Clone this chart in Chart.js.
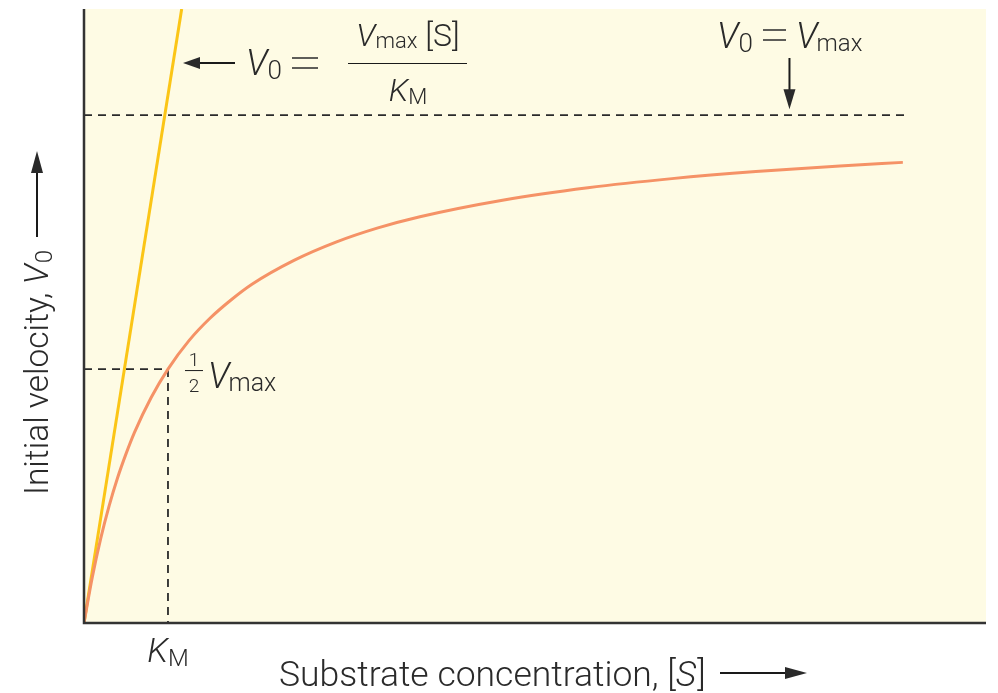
<!DOCTYPE html>
<html lang="en">
<head>
<meta charset="UTF-8" />
<title>Michaelis-Menten</title>
<script src="https://cdn.jsdelivr.net/npm/chart.js@4.4.1/dist/chart.umd.min.js"></script>
<style>
  html, body { margin: 0; padding: 0; background: #fff; }
  #wrap { width: 998px; height: 693px; }
</style>
</head>
<body>
<div id="wrap"><canvas id="mm" width="998" height="693"></canvas></div>
<script>
// values (KM = 1, Vmax = 1)
const KM = 1;
const VMAX = 1;
const substrate = [0, 0.1, 0.2, 0.3, 0.4, 0.5, 0.6, 0.8, 1.0, 1.25, 1.5, 1.75, 2, 2.5, 3, 3.5, 4, 5, 6, 7, 8, 9, 9.75];
const velocity = [0, 0.091, 0.167, 0.231, 0.286, 0.333, 0.375, 0.444, 0.5, 0.556, 0.6, 0.636, 0.667, 0.714, 0.75, 0.778, 0.8, 0.833, 0.857, 0.875, 0.889, 0.9, 0.907];
const initSubstrate = [0, 1.163];
const initVelocity = [0, 1.209];
const vmaxLineEnd = 9.77;
const xMax = 10.74;
const yMax = 1.209;

const FF = '"Roboto", "Liberation Sans", sans-serif';
const INK = '#2a2a2a';

const pts = (xs, ys) => xs.map((x, i) => ({ x: x, y: ys[i] }));

function put(ctx, s, x, y, size, italic) {
  ctx.font = (italic ? 'italic ' : '') + '300 ' + size + 'px ' + FF;
  ctx.fillText(s, x, y);
  return ctx.measureText(s).width;
}
function width(ctx, s, size, italic) {
  ctx.font = (italic ? 'italic ' : '') + '300 ' + size + 'px ' + FF;
  return ctx.measureText(s).width;
}
// math-style equals sign, thin and wide
function equals(ctx, x1, x2, yMid) {
  ctx.save();
  ctx.lineWidth = 1.6;
  ctx.beginPath();
  ctx.moveTo(x1, yMid - 5); ctx.lineTo(x2, yMid - 5);
  ctx.moveTo(x1, yMid + 5); ctx.lineTo(x2, yMid + 5);
  ctx.stroke();
  ctx.restore();
}
function arrow(ctx, x1, y1, x2, y2, head, half) {
  const a = Math.atan2(y2 - y1, x2 - x1);
  ctx.beginPath();
  ctx.moveTo(x1, y1);
  ctx.lineTo(x2 - Math.cos(a) * head * 0.8, y2 - Math.sin(a) * head * 0.8);
  ctx.stroke();
  ctx.beginPath();
  ctx.moveTo(x2, y2);
  ctx.lineTo(x2 - Math.cos(a) * head - Math.sin(a) * half, y2 - Math.sin(a) * head + Math.cos(a) * half);
  ctx.lineTo(x2 - Math.cos(a) * head + Math.sin(a) * half, y2 - Math.sin(a) * head - Math.cos(a) * half);
  ctx.closePath();
  ctx.fill();
}

const decor = {
  id: 'decor',
  beforeDraw(chart) {
    const { ctx, chartArea: a } = chart;
    ctx.save();
    ctx.fillStyle = '#fefbe4';
    ctx.fillRect(a.left, a.top, a.right - a.left, a.bottom - a.top);
    ctx.restore();
  },
  afterDatasetsDraw(chart) {
    const { ctx, chartArea: a } = chart;
    ctx.save();
    ctx.strokeStyle = '#333';
    ctx.lineWidth = 2.5;
    ctx.beginPath();
    ctx.moveTo(a.left, a.top);
    ctx.lineTo(a.left, a.bottom);
    ctx.lineTo(a.right, a.bottom);
    ctx.stroke();
    ctx.restore();
  },
  afterDraw(chart) {
    const { ctx } = chart;
    const xs = chart.scales.x, ys = chart.scales.y;
    ctx.save();
    ctx.fillStyle = INK;
    ctx.strokeStyle = '#1a1a1a';
    ctx.textBaseline = 'alphabetic';
    ctx.lineWidth = 2;

    // formula with arrow pointing at the initial-rate line
    arrow(ctx, 235, 63, 183, 63, 17, 6);
    let x = 246;
    x += put(ctx, 'V', x, 75, 36, true);
    put(ctx, '0', x, 79, 26, false);
    ctx.strokeStyle = INK;
    equals(ctx, 292, 318, 63);
    ctx.strokeStyle = '#1a1a1a';
    const cx = 408;
    const numW = width(ctx, 'V', 32, true) + width(ctx, 'max', 22) + width(ctx, ' [S]', 32);
    x = cx - numW / 2;
    x += put(ctx, 'V', x, 46, 32, true);
    x += put(ctx, 'max', x, 48, 22, false);
    put(ctx, ' [S]', x, 46, 32, false);
    ctx.lineWidth = 1.2;
    ctx.beginPath(); ctx.moveTo(348, 63.5); ctx.lineTo(467, 63.5); ctx.stroke();
    const denW = width(ctx, 'K', 32, true) + width(ctx, 'M', 22);
    x = cx - denW / 2;
    x += put(ctx, 'K', x, 101, 32, true);
    put(ctx, 'M', x, 104, 22, false);

    // V0 = Vmax with arrow down to the dashed line
    ctx.lineWidth = 2;
    x = 717;
    x += put(ctx, 'V', x, 48, 36, true);
    put(ctx, '0', x, 52, 26, false);
    ctx.strokeStyle = INK;
    equals(ctx, 763, 786, 35);
    ctx.strokeStyle = '#1a1a1a';
    x = 796;
    x += put(ctx, 'V', x, 48, 36, true);
    put(ctx, 'max', x - 1, 51, 24, false);
    const ax = xs.getPixelForValue(8.4);
    arrow(ctx, ax, 58, ax, ys.getPixelForValue(VMAX) - 6, 20, 6);

    // 1/2 Vmax
    const hx = xs.getPixelForValue(KM) + 16;
    const hy = ys.getPixelForValue(VMAX / 2);
    ctx.textAlign = 'center';
    put(ctx, '1', hx + 10, hy - 3, 19, false);
    put(ctx, '2', hx + 10, hy + 23, 19, false);
    ctx.textAlign = 'left';
    ctx.lineWidth = 1;
    ctx.beginPath(); ctx.moveTo(hx + 1, hy + 1.5); ctx.lineTo(hx + 19, hy + 1.5); ctx.stroke();
    x = hx + 24;
    x += put(ctx, 'V', x, hy + 19, 36, true);
    put(ctx, 'max', x - 1, hy + 22, 25, false);

    // KM under the axis
    const kx = xs.getPixelForValue(KM);
    const kw = width(ctx, 'K', 34, true) + width(ctx, 'M', 24);
    x = kx - kw / 2;
    x += put(ctx, 'K', x, 662, 34, true);
    put(ctx, 'M', x, 666, 24, false);

    // axis titles
    x = 279;
    x += put(ctx, 'Substrate concentration, [', x, 686, 35.5, false);
    x += put(ctx, 'S', x, 686, 35.5, true);
    put(ctx, ']', x + 1, 686, 35.5, false);
    ctx.lineWidth = 2;
    arrow(ctx, 720, 673, 807, 673, 22, 6);

    ctx.save();
    ctx.translate(48, 495);
    ctx.rotate(-Math.PI / 2);
    x = 0;
    x += put(ctx, 'Initial velocity, ', x, 0, 33.5, false);
    x += put(ctx, 'V', x, 0, 33.5, true);
    put(ctx, '0', x + 1, 4, 24, false);
    ctx.restore();
    arrow(ctx, 37, 237, 37, 151, 22, 6);

    ctx.restore();
  }
};

new Chart(document.getElementById('mm'), {
  type: 'scatter',
  data: {
    datasets: [
      {
        data: pts(substrate, velocity),
        showLine: true,
        borderColor: '#f59266',
        borderWidth: 3,
        pointRadius: 0,
        cubicInterpolationMode: 'monotone'
      },
      {
        data: pts(initSubstrate, initVelocity),
        showLine: true,
        borderColor: '#fbc516',
        borderWidth: 3,
        pointRadius: 0
      },
      {
        data: pts([0, vmaxLineEnd], [VMAX, VMAX]),
        showLine: true,
        borderColor: '#2a2a2a',
        borderWidth: 1.8,
        borderDash: [8, 6],
        pointRadius: 0
      },
      {
        data: pts([0, KM, KM], [VMAX / 2, VMAX / 2, 0]),
        showLine: true,
        borderColor: '#2a2a2a',
        borderWidth: 1.8,
        borderDash: [8, 6],
        pointRadius: 0
      }
    ]
  },
  options: {
    responsive: false,
    animation: false,
    layout: { padding: { left: 84, top: 9, right: 12, bottom: 70 } },
    plugins: { legend: { display: false }, tooltip: { enabled: false } },
    scales: {
      x: { type: 'linear', min: 0, max: xMax, display: false },
      y: { type: 'linear', min: 0, max: yMax, display: false }
    }
  },
  plugins: [decor]
});
</script>
</body>
</html>
